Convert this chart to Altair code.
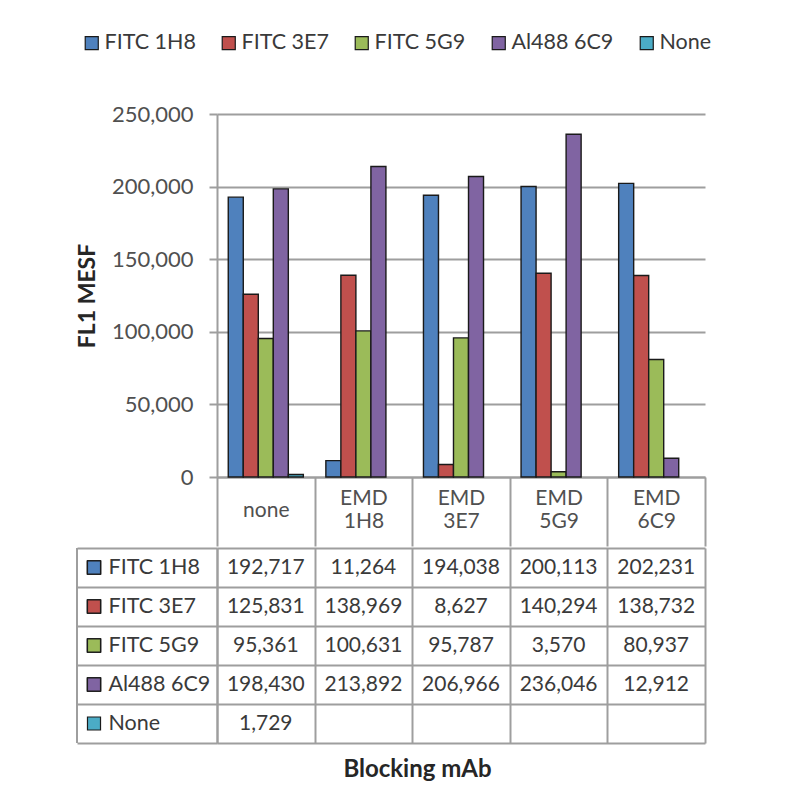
import altair as alt
import pandas as pd

categories = ["none", "EMD 1H8", "EMD 3E7", "EMD 5G9", "EMD 6C9"]
series = ["FITC 1H8", "FITC 3E7", "FITC 5G9", "Al488 6C9", "None"]
fitc_1h8 = [192717, 11264, 194038, 200113, 202231]
fitc_3e7 = [125831, 138969, 8627, 140294, 138732]
fitc_5g9 = [95361, 100631, 95787, 3570, 80937]
al488_6c9 = [198430, 213892, 206966, 236046, 12912]
none_ctrl = [1729, None, None, None, None]
colors = ["#4F81BD", "#C0504D", "#9BBB59", "#8064A2", "#4BACC6"]
y_ticks = [0, 50000, 100000, 150000, 200000, 250000]

values_by_series = [fitc_1h8, fitc_3e7, fitc_5g9, al488_6c9, none_ctrl]
rows = []
for s, vals in zip(series, values_by_series):
    for c, v in zip(categories, vals):
        if v is not None:
            rows.append({"category": c, "series": s, "value": v})
df = pd.DataFrame(rows)

FONT = "Lato"
GRID = "#9e9e9e"
LABEL = "#505050"
TEXT = "#3a3a3a"
OUTLINE = "#1a1a1a"

color_scale = alt.Scale(domain=series, range=colors)

bars = alt.Chart(df).mark_bar(stroke=OUTLINE, strokeWidth=1.4).encode(
    x=alt.X(
        "category:N",
        sort=categories,
        scale=alt.Scale(paddingInner=0, paddingOuter=0),
        axis=alt.Axis(
            title=None,
            labelExpr="split(datum.label, ' ')",
            labelAngle=0,
            labelFontSize=21,
            labelColor=LABEL,
            labelBaseline={
                "condition": {"test": "datum.label == 'none'", "value": "line-top"},
                "value": "middle",
            },
            labelPadding=-48,
            labelLineHeight=23,
            labelOverlap=False,
            ticks=True,
            tickBand="extent",
            tickSize=69,
            tickColor=GRID,
            tickWidth=2,
            domainColor=GRID,
            domainWidth=2,
            grid=False,
        ),
    ),
    xOffset=alt.XOffset(
        "series:N", sort=series,
        scale=alt.Scale(paddingInner=0, paddingOuter=0.75),
    ),
    y=alt.Y(
        "value:Q",
        scale=alt.Scale(domain=[0, 250000], nice=False),
        axis=alt.Axis(
            values=y_ticks,
            format=",.0f",
            title="FL1 MESF",
            titleFontSize=23,
            titleFontWeight="bold",
            titleColor="#262626",
            titlePadding=12,
            labelFontSize=22,
            labelColor=LABEL,
            labelPadding=16,
            tickSize=8,
            tickColor=GRID,
            tickWidth=2,
            domainColor=GRID,
            domainWidth=2,
            gridColor=GRID,
            gridWidth=2,
        ),
    ),
    color=alt.Color(
        "series:N",
        scale=color_scale,
        sort=series,
        legend=alt.Legend(
            title=None,
            orient="none",
            legendX=-136,
            legendY=-82,
            direction="horizontal",
            symbolType="square",
            symbolSize=170,
            symbolStrokeColor=OUTLINE,
            symbolStrokeWidth=1.2,
            symbolOpacity=1,
            labelFontSize=21.5,
            labelColor=TEXT,
            labelOffset=2,
            columnPadding=22,
        ),
    ),
).properties(width=488, height=363)

base = alt.Chart(df).encode(
    x=alt.X(
        "category:N",
        sort=categories,
        scale=alt.Scale(paddingInner=0, paddingOuter=0),
        axis=alt.Axis(
            title="Blocking mAb",
            titleFontSize=24,
            titleFontWeight="bold",
            titleColor="#262626",
            titlePadding=14,
            titleX=200,
            labels=False,
            ticks=False,
            domain=False,
            grid=True,
            tickBand="extent",
            gridColor=GRID,
            gridWidth=2,
        ),
    ),
    y=alt.Y(
        "series:N",
        sort=series,
        scale=alt.Scale(paddingInner=0, paddingOuter=0),
        axis=alt.Axis(
            title=None,
            grid=True,
            tickBand="extent",
            gridColor=GRID,
            gridWidth=2,
            ticks=True,
            tickSize=140,
            tickColor=GRID,
            tickWidth=2,
            domainColor=GRID,
            domainWidth=2,
            labelAlign="left",
            labelPadding=-31,
            labelFontSize=21.5,
            labelColor=TEXT,
        ),
    ),
)

cell_text = base.mark_text(fontSize=21, color=TEXT).encode(
    text=alt.Text("value:Q", format=",")
)
swatches = base.mark_point(
    shape="square", filled=True, size=170, stroke=OUTLINE, strokeWidth=1.2, opacity=1
).encode(
    x=alt.value(-123),
    color=alt.Color("series:N", scale=color_scale, sort=series, legend=None),
)
left_border = alt.Chart(pd.DataFrame({"a": [0]})).mark_rule(
    color=GRID, strokeWidth=2
).encode(x=alt.value(-140), y=alt.value(0), y2=alt.value(195))

table = alt.layer(left_border, swatches, cell_text).properties(width=488, height=195)

chart = alt.vconcat(bars, table, spacing=-10).resolve_legend(
    color="independent"
).properties(
    padding={"left": 68, "top": 24, "right": 5, "bottom": 5}
).configure(font=FONT).configure_view(stroke=None)

chart.save("out.html", embed_options={"renderer": "svg", "actions": False})
